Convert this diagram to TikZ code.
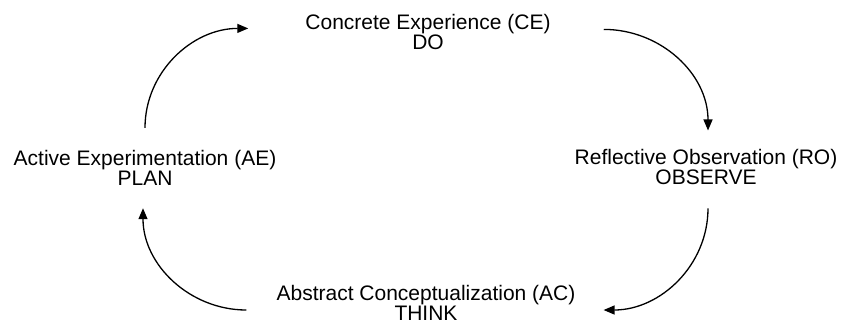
\documentclass[tikz,border=0pt]{standalone}
\usepackage{fontspec}
\setmainfont{Liberation Sans}
\usetikzlibrary{arrows.meta}

\begin{document}
\begin{tikzpicture}
  [x=1pt,y=-1pt,every node/.style={align=center,inner sep=0pt,font=\fontsize{21}{20}\selectfont},
   cycarrow/.style={line width=1.3pt,-{Triangle[length=11pt,width=9pt]}}]
  \useasboundingbox (0,0) rectangle (841,325);
  \node (ce) at (428,32.4) {Concrete Experience (CE)\\DO};
  \node (ro) at (706,167.4) {Reflective Observation (RO)\\OBSERVE};
  \node (ac) at (426,303) {Abstract Conceptualization (AC)\\THINK};
  \node (ae) at (145,167.4) {Active Experimentation (AE)\\PLAN};

  \draw[cycarrow] ([yshift=21.7pt]ae.north) to[out=90,in=180] ([xshift=-57pt,yshift=4pt]ce.west);
  \draw[cycarrow] ([xshift=53pt,yshift=3pt]ce.east) to[out=0,in=90] ([xshift=2pt,yshift=19pt]ro.north);
  \draw[cycarrow] ([xshift=2pt,yshift=-23pt]ro.south) to[out=-90,in=0] ([xshift=28pt,yshift=-7pt]ac.east);
  \draw[cycarrow] ([xshift=-30pt,yshift=-7pt]ac.west) to[out=180,in=-90] ([xshift=-2pt,yshift=-23pt]ae.south);
\end{tikzpicture}
\end{document}
